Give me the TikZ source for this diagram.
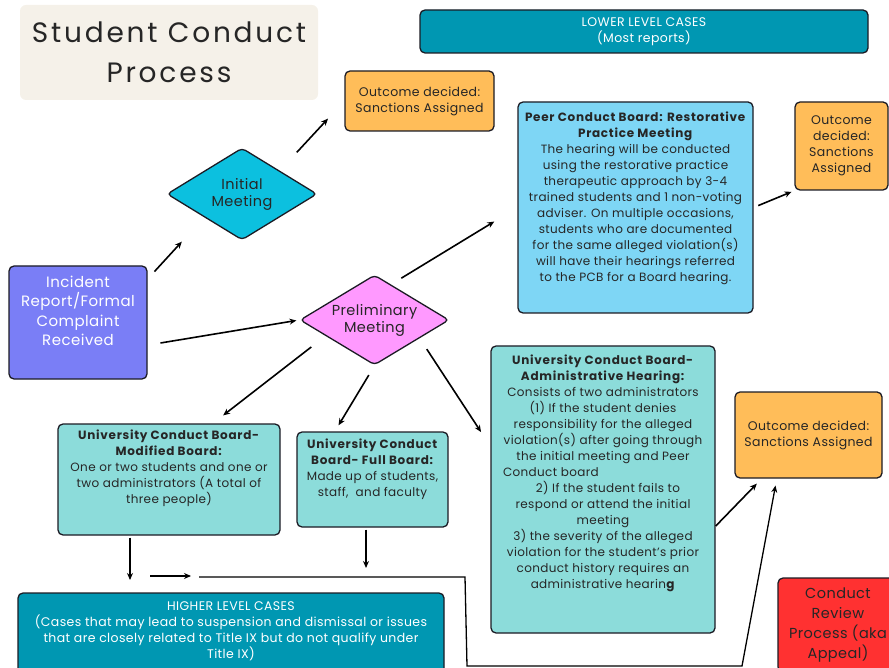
\documentclass[tikz,border=0pt]{standalone}
\usepackage{fontspec}
\setmainfont{Poppins}[LetterSpace=3,BoldFeatures={LetterSpace=6}]
\newfontfamily\titlefont{Poppins}[LetterSpace=10]
\usetikzlibrary{arrows.meta,shapes.geometric}
\definecolor{titlebg}{HTML}{F5F1E9}
\definecolor{levelteal}{HTML}{0097B2}
\definecolor{outorange}{HTML}{FFBD59}
\definecolor{initcyan}{HTML}{0CC0DF}
\definecolor{peerblue}{HTML}{7ED6F5}
\definecolor{incviolet}{HTML}{7A7EF6}
\definecolor{prelpink}{HTML}{FF99FF}
\definecolor{boardaqua}{HTML}{8CDCDA}
\definecolor{reviewred}{HTML}{FF3131}
\definecolor{edge}{HTML}{1B1B24}
\newcommand{\bodysize}{\fontsize{12}{16}\selectfont}

\begin{document}
\begin{tikzpicture}[x=1pt,y=-1pt,
  box/.style={draw=edge,line width=1.3pt,rounded corners=5pt,align=center,inner sep=2pt,text=black!85},
  level/.style={box,fill=levelteal,text=white,font=\fontsize{12.5}{16.5}\selectfont},
  outcome/.style={box,fill=outorange,font=\fontsize{12.5}{16}\selectfont},
  board/.style={box,fill=boardaqua,font=\bodysize},
  meeting/.style={diamond,aspect=1.65,draw=edge,line width=1.3pt,rounded corners=4pt,inner sep=0pt,align=center,
    minimum width=150pt,minimum height=92pt,font=\fontsize{14.5}{17}\selectfont,text=black!85},
  arr/.style={-{Stealth[length=7pt,width=6pt]},line width=1.6pt,draw=black}]
  \useasboundingbox (0,0) rectangle (889,668);
  \clip (0,0) rectangle (889,668);
  \node[fill=titlebg,rounded corners=6pt,minimum width=298pt,minimum height=95pt,align=center,
    font=\titlefont\fontsize{28}{40}\selectfont,text=black!85] (title) at (169,52.5) {Student Conduct\\Process};
  \node[level,minimum width=448pt,minimum height=43pt] (lower) at (644,31.5) {LOWER LEVEL CASES\\(Most reports)};
  \node[outcome,minimum width=149pt,minimum height=60pt] (out1) at (419.5,101) {Outcome decided:\\Sanctions Assigned};
  \node[meeting,fill=initcyan] (initial) at (242,194) {Initial\\Meeting};
  \node[box,fill=peerblue,font=\bodysize,minimum width=235pt,minimum height=211pt] (peer) at (635.5,207.5)
    {\textbf{Peer Conduct Board: Restorative}\\\textbf{Practice Meeting}\\The hearing will be conducted\\using the restorative practice\\therapeutic approach by 3-4\\trained students and 1 non-voting\\adviser. On multiple occasions,\\students who are documented\\for the same alleged violation(s)\\will have their hearings referred\\to the PCB for a Board hearing.\\[6pt]\mbox{}};
  \node[outcome,minimum width=93pt,minimum height=88pt] (out2) at (841.5,146) {Outcome\\decided:\\Sanctions\\Assigned};
  \node[box,fill=incviolet,text=white,minimum width=138pt,minimum height=113pt,font=\fontsize{15}{19.5}\selectfont] (incident) at (78,322.5)
    {Incident\\Report/Formal\\Complaint\\Received\\[4pt]\mbox{}};
  \node[meeting,fill=prelpink,minimum width=149pt,minimum height=90pt] (prelim) at (374.5,320) {Preliminary\\Meeting};
  \node[board,minimum width=222pt,minimum height=111pt] (modified) at (169,479.5)
    {\textbf{University Conduct Board-}\\\textbf{Modified Board:}\\One or two students and one or\\two administrators (A total of\\three people)\\[10pt]\mbox{}};
  \node[board,minimum width=151pt,minimum height=95pt] (full) at (372.5,479.5)
    {\textbf{University Conduct}\\\textbf{Board- Full Board:}\\Made up of students,\\staff,\ \ and faculty\\[8pt]\mbox{}};
  \node[board,minimum width=224pt,minimum height=287pt] (admin) at (603,489.5)
    {\textbf{University Conduct Board-}\\\textbf{Administrative Hearing:}\\Consists of two administrators\\(1) If the student denies\\responsibility for the alleged\\violation(s) after going through\\the initial meeting and Peer\\\makebox[200pt][l]{Conduct board}\\\hspace*{10pt}2) If the student fails to\\respond or attend the initial\\meeting\\3) the severity of the alleged\\violation for the student's prior\\conduct history requires an\\administrative hearin\textbf{g}\\[20pt]\mbox{}};
  \node[outcome,minimum width=147pt,minimum height=86pt] (out3) at (808.5,435) {Outcome decided:\\Sanctions Assigned};
  \node[box,fill=reviewred,minimum width=120pt,minimum height=94pt,font=\fontsize{14.5}{20}\selectfont] (review) at (838,625)
    {Conduct\\Review\\Process (aka\\Appeal)};
  \node[level,minimum width=426pt,minimum height=85pt,font=\fontsize{12.5}{16}\selectfont] (higher) at (231,635.5)
    {HIGHER LEVEL CASES\\(Cases that may lead to suspension and dismissal or issues\\that are closely related to Title IX but do not qualify under\\Title IX)\\[-5pt]\mbox{}};
  % loose ends of the lower connectors
  \coordinate (mdrop) at (130,580);
  \coordinate (fdrop) at (366,568);
  \coordinate (hstart) at (150,576);
  \coordinate (hend) at (191,576);
  \coordinate (route) at (199,577);
  \coordinate (turn1) at (465,577);
  \coordinate (turn2) at (467,666);
  \coordinate (turn3) at (742,666);
  \draw[arr,shorten <=10pt,shorten >=33pt] (incident.32) -- (initial.south west);
  \draw[arr,shorten <=25pt,shorten >=24pt] (initial.north east) -- (out1.west);
  \draw[arr,shorten <=13pt,shorten >=3pt] (incident.-18) -- (prelim.west);
  \draw[arr,shorten <=12pt,shorten >=27pt] (prelim.65) -- (peer.west);
  \draw[arr,shorten <=5pt,shorten >=3pt] (peer.east) -- (out2.south west);
  \draw[arr,shorten <=18pt,shorten >=13pt] (prelim.198) -- (modified.52);
  \draw[arr,shorten <=11pt,shorten >=7pt] (prelim.south) -- (full.128);
  \draw[arr,shorten <=13pt,shorten >=17pt] (prelim.-22) -- (admin.159);
  \draw[arr,shorten >=7pt] (admin.-18) -- (out3.223);
  \draw[arr,shorten <=2pt] (modified.south -| mdrop) -- (mdrop);
  \draw[arr,shorten <=2pt] (full.south -| fdrop) -- (fdrop);
  \draw[arr,line width=1.3pt] (hstart) -- (hend);
  \draw[arr,line width=1.3pt,shorten >=7pt] (route) -- (turn1) -- (turn2) -- (turn3) -- (out3.234);
\end{tikzpicture}
\end{document}
